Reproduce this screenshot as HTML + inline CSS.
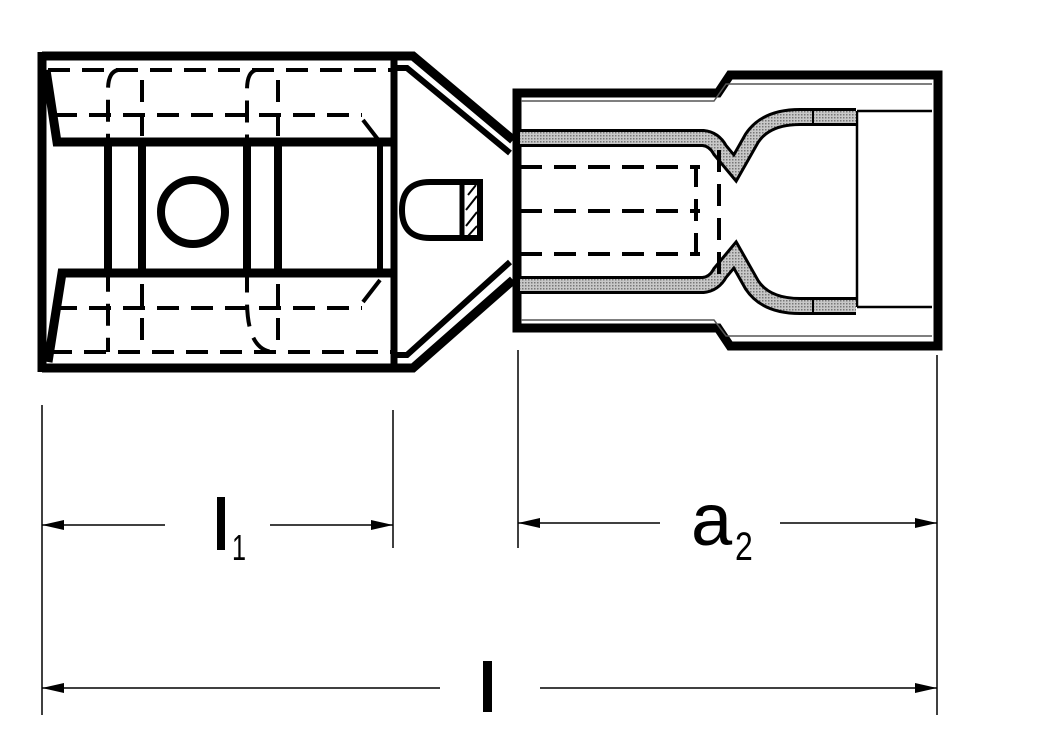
<!DOCTYPE html>
<html><head><style>html,body{margin:0;padding:0;background:#fff;}svg{display:block}</style></head>
<body>
<svg width="1049" height="747" viewBox="0 0 1049 747" xmlns="http://www.w3.org/2000/svg">
<defs>
<pattern id="g" width="3" height="3" patternUnits="userSpaceOnUse"><rect width="3" height="3" fill="#c8c8c8"/><rect width="1.5" height="1.5" fill="#777"/></pattern>
</defs>
<g fill="none" stroke="#000" stroke-linecap="butt" stroke-linejoin="miter">
<path d="M42,56 L413,56 L513,140" stroke-width="9"/>
<path d="M42,368 L413,368 L513,280" stroke-width="9"/>
<path d="M42,52 L42,372" stroke-width="9"/>
<path d="M397,68 L407,68 L510,153" stroke-width="6"/>
<path d="M397,355 L407,355 L510,262" stroke-width="6"/>
<path d="M394,60 L394,366" stroke-width="7"/>
<path d="M46,70 L57,142 L397,142" stroke-width="9"/>
<path d="M397,273 L62,273 L48,362" stroke-width="9"/>
<path d="M108,142 V273 M142,142 V273 M247,142 V273 M278,142 V273" stroke-width="8"/>
<path d="M380,142 V273" stroke-width="6"/>
<circle cx="193" cy="212" r="32" stroke-width="8"/>
<g stroke-width="4" stroke-dasharray="22,12">
<path d="M48,70 H392 M55,115 H362 M55,308 H362 M50,352 H392"/>
<path d="M118,70 Q108,72 108,90 V352 M142,80 V352"/>
<path d="M256,70 Q247,72 247,90 V300 Q247,352 275,352 M278,80 V345"/>
</g>
<path d="M363,120 L380,142 M363,302 L380,280" stroke-width="4"/>
<path d="M480,182 H430 Q402,182 402,210 Q402,238 430,238 H480 Z" stroke-width="6"/>
<path d="M462,182 V238" stroke-width="5"/>
<path d="M468,195 L476,185 M466,210 L477,196 M466,226 L477,212 M468,236 L477,226" stroke-width="2"/>
<path d="M517,93 H718 L730,75 H938 V346 H730 L718,328 H517 Z" stroke-width="9"/>
<path d="M521,101 H714 L726,84 H932 M521,320 H714 L726,336 H932" stroke-width="1.5" stroke="#555"/>
<path d="M857,111 V307 M857,111 H932 M857,307 H932" stroke-width="2.5"/>
<path id="bt" d="M520,138 H703 Q714,139 720,150 L735,168 L752,138 Q766,117 800,117 H856" stroke-width="18"/>
<path d="M520,138 H703 Q714,139 720,150 L735,168 L752,138 Q766,117 800,117 H856" stroke-width="12" stroke="url(#g)"/>
<path d="M520,285 H703 Q714,284 720,273 L735,255 L752,285 Q766,306 800,306 H856" stroke-width="18"/>
<path d="M520,285 H703 Q714,284 720,273 L735,255 L752,285 Q766,306 800,306 H856" stroke-width="12" stroke="url(#g)"/>
<path d="M813,108 V126 M813,297 V315" stroke-width="2"/>
<g stroke-width="4" stroke-dasharray="22,12">
<path d="M520,167 H700 M520,211 H700 M520,254 H700"/>
<path d="M696,165 V260 M719,150 V275"/>
</g>
<g stroke-width="1.5">
<path d="M42,405 V715 M393,410 V548 M518,350 V548 M937,355 V715"/>
<path d="M42,525 H165 M270,525 H393 M518,523 H660 M780,523 H937 M42,688 H440 M540,688 H937"/>
</g>
</g>
<g fill="#000">
<path d="M42,525 l22,-5 v10 z M393,525 l-22,-5 v10 z M518,523 l22,-5 v10 z M937,523 l-22,-5 v10 z M42,688 l22,-5 v10 z M937,688 l-22,-5 v10 z"/>
<rect x="217" y="497" width="8" height="53"/>
<rect x="483" y="661" width="9" height="51"/>
</g>
<g font-family="Liberation Sans, sans-serif" fill="#000">
<text x="0" y="0" font-size="36" transform="translate(232,560) scale(0.7,1)">1</text>
<text x="0" y="0" font-size="74" transform="translate(691,545) scale(1.0,1)">a</text>
<text x="0" y="0" font-size="40" transform="translate(735,560) scale(0.8,1)">2</text>
</g>
</svg>
</body></html>
